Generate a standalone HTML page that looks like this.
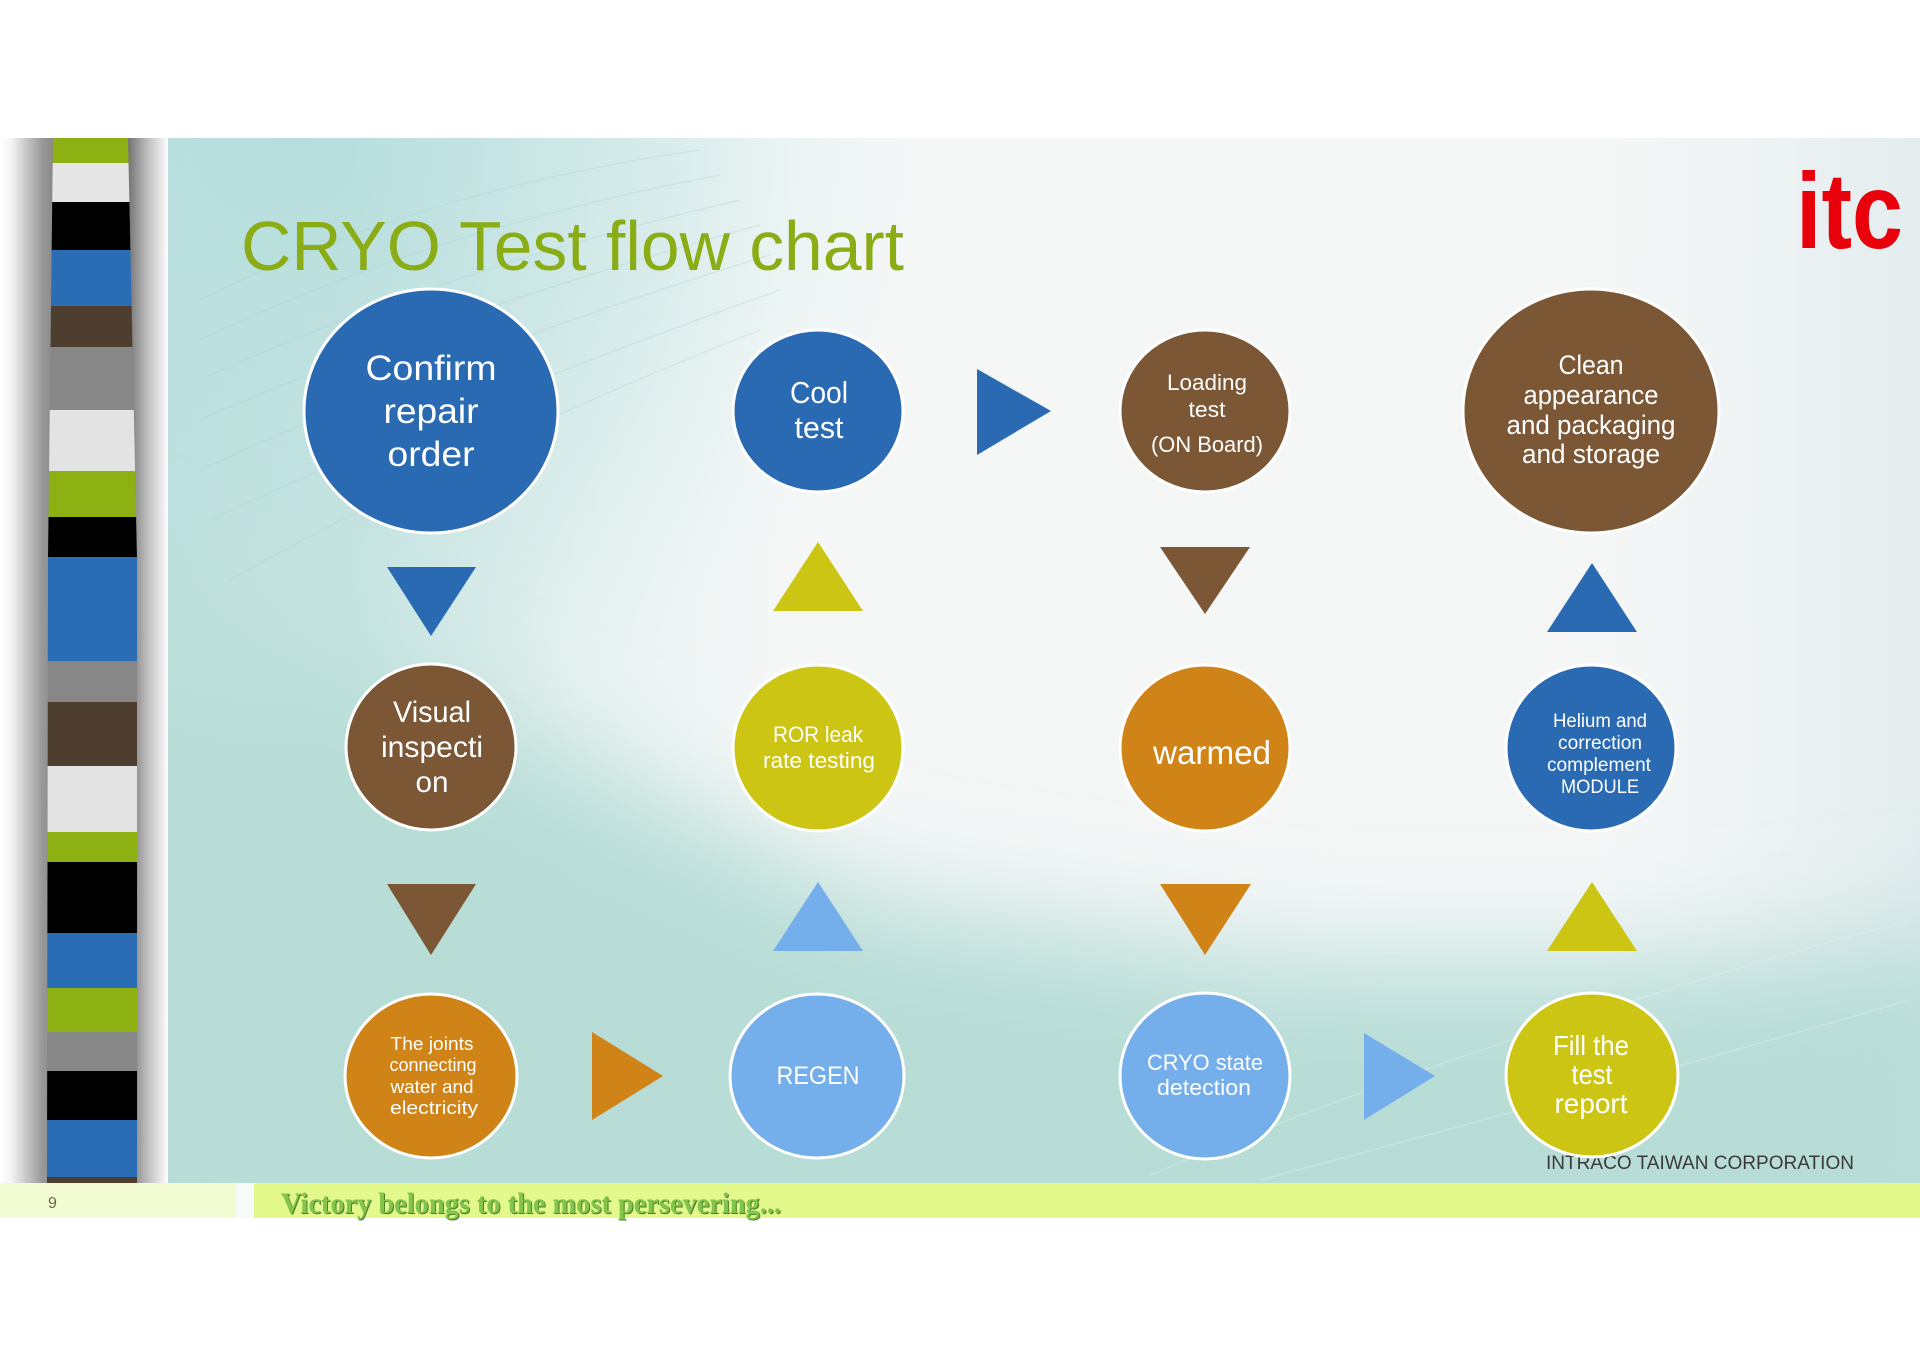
<!DOCTYPE html>
<html>
<head>
<meta charset="utf-8">
<style>
html,body{margin:0;padding:0;background:#fff;}
svg{display:block;}
</style>
</head>
<body>
<svg width="1920" height="1358" viewBox="0 0 1920 1358" xmlns="http://www.w3.org/2000/svg" font-family="'Liberation Sans', sans-serif">
<defs>
  <linearGradient id="lb" gradientUnits="userSpaceOnUse" x1="168" y1="0" x2="780" y2="0">
    <stop offset="0" stop-color="#b7dcd8" stop-opacity="1"/>
    <stop offset="0.3" stop-color="#b9ddd9" stop-opacity="0.85"/>
    <stop offset="0.65" stop-color="#c6e4e0" stop-opacity="0.35"/>
    <stop offset="1" stop-color="#d4ebe8" stop-opacity="0"/>
  </linearGradient>
  <radialGradient id="tl" gradientUnits="userSpaceOnUse" cx="300" cy="140" r="620">
    <stop offset="0" stop-color="#b4dedd" stop-opacity="0.9"/>
    <stop offset="0.6" stop-color="#c4e4e3" stop-opacity="0.5"/>
    <stop offset="1" stop-color="#d8eeed" stop-opacity="0"/>
  </radialGradient>
  <linearGradient id="rt" gradientUnits="userSpaceOnUse" x1="1600" y1="0" x2="1920" y2="0">
    <stop offset="0" stop-color="#e9eff1" stop-opacity="0"/>
    <stop offset="1" stop-color="#e3ecee" stop-opacity="1"/>
  </linearGradient>
  <linearGradient id="shL" x1="0" y1="0" x2="1" y2="0">
    <stop offset="0" stop-color="#ffffff"/>
    <stop offset="0.2" stop-color="#f4f4f4"/>
    <stop offset="0.75" stop-color="#999"/>
    <stop offset="1" stop-color="#858585"/>
  </linearGradient>
  <linearGradient id="shR" x1="0" y1="0" x2="1" y2="0">
    <stop offset="0" stop-color="#6a6a6a"/>
    <stop offset="0.45" stop-color="#b5b5b5"/>
    <stop offset="1" stop-color="#ffffff"/>
  </linearGradient>
  <filter id="blur" filterUnits="userSpaceOnUse" x="0" y="0" width="1920" height="1358">
    <feGaussianBlur stdDeviation="55"/>
  </filter>
  <clipPath id="panel">
    <rect x="168" y="138" width="1752" height="1045"/>
  </clipPath>
  <clipPath id="col">
    <polygon points="53,138 128,138 137,560 137,1183 47,1183 48,560"/>
  </clipPath>
</defs>

<!-- Panel background -->
<rect x="168" y="138" width="1752" height="1045" fill="#f5f7f7"/>
<rect x="1600" y="138" width="320" height="1045" fill="url(#rt)"/>
<rect x="168" y="138" width="1752" height="1045" fill="url(#lb)"/>
<g clip-path="url(#panel)">
  <polygon points="100,560 480,720 880,900 1300,960 1700,960 2000,930 2000,1300 100,1300" fill="#b8ddd7" filter="url(#blur)"/>
</g>
<rect x="168" y="138" width="900" height="700" fill="url(#tl)"/>
<g fill="none" stroke="#a6d2d1" stroke-width="1.2" opacity="0.35">
  <path d="M200,300 Q420,190 700,150"/>
  <path d="M200,340 Q430,230 720,175"/>
  <path d="M200,380 Q440,270 740,200"/>
  <path d="M200,420 Q450,310 760,225"/>
  <path d="M200,470 Q460,350 770,255"/>
  <path d="M210,520 Q470,400 780,290"/>
  <path d="M230,580 Q480,440 760,330"/>
</g>
<g fill="none" stroke="#e6f3f1" stroke-width="1.2" opacity="0.4">
  <path d="M1150,1175 Q1500,1030 1910,920"/>
  <path d="M1260,1180 Q1600,1090 1910,1000"/>
</g>

<!-- Left column shadows -->
<rect x="0" y="138" width="56" height="1045" fill="url(#shL)"/>
<rect x="126" y="138" width="42" height="1045" fill="url(#shR)"/>

<!-- Stripe column -->
<g clip-path="url(#col)">
  <rect x="40" y="138" width="110" height="26" fill="#8db012"/>
  <rect x="40" y="163" width="110" height="40" fill="#e6e6e6"/>
  <rect x="40" y="202" width="110" height="49" fill="#000"/>
  <rect x="40" y="250" width="110" height="57" fill="#2a6db5"/>
  <rect x="40" y="306" width="110" height="42" fill="#4d3e30"/>
  <rect x="40" y="347" width="110" height="64" fill="#878787"/>
  <rect x="40" y="410" width="110" height="62" fill="#e3e3e3"/>
  <rect x="40" y="471" width="110" height="47" fill="#8db012"/>
  <rect x="40" y="517" width="110" height="41" fill="#000"/>
  <rect x="40" y="557" width="110" height="105" fill="#2a6db5"/>
  <rect x="40" y="661" width="110" height="42" fill="#878787"/>
  <rect x="40" y="702" width="110" height="65" fill="#4d3e30"/>
  <rect x="40" y="766" width="110" height="67" fill="#e3e3e3"/>
  <rect x="40" y="832" width="110" height="31" fill="#8db012"/>
  <rect x="40" y="862" width="110" height="72" fill="#000"/>
  <rect x="40" y="933" width="110" height="56" fill="#2a6db5"/>
  <rect x="40" y="988" width="110" height="45" fill="#8db012"/>
  <rect x="40" y="1032" width="110" height="40" fill="#878787"/>
  <rect x="40" y="1071" width="110" height="50" fill="#000"/>
  <rect x="40" y="1120" width="110" height="58" fill="#2a6db5"/>
  <rect x="40" y="1177" width="110" height="6" fill="#4d3e30"/>
</g>

<!-- Title -->
<text x="241" y="270" font-size="70" fill="#8aac14" textLength="663" lengthAdjust="spacingAndGlyphs">CRYO Test flow chart</text>

<!-- itc logo -->
<text x="1796" y="248" font-size="108" font-weight="bold" fill="#e8000b" textLength="107" lengthAdjust="spacingAndGlyphs">itc</text>

<!-- Company text (behind circle) -->
<text x="1546" y="1169" font-size="19" fill="#3a3a3a" textLength="308" lengthAdjust="spacingAndGlyphs">INTRACO TAIWAN  CORPORATION</text>

<!-- Triangles -->
<g>
  <polygon points="387,567 476,567 431,636" fill="#2a6ab3"/>
  <polygon points="773,611 863,611 818,542" fill="#cdc513"/>
  <polygon points="1160,547 1250,547 1205,614" fill="#7b5735"/>
  <polygon points="1547,632 1637,632 1592,563" fill="#2a6ab3"/>
  <polygon points="387,884 476,884 431,955" fill="#7b5735"/>
  <polygon points="773,951 863,951 818,882" fill="#74aeeb"/>
  <polygon points="1160,884 1251,884 1205,955" fill="#d08316"/>
  <polygon points="1547,951 1637,951 1592,882" fill="#cdc513"/>
  <polygon points="977,369 977,455 1051,411" fill="#2a6ab3"/>
  <polygon points="592,1032 592,1120 663,1076" fill="#d08316"/>
  <polygon points="1364,1033 1364,1120 1435,1076" fill="#74aeeb"/>
</g>

<!-- Circles -->
<g stroke="#ffffff" stroke-width="3">
  <ellipse cx="431" cy="411" rx="127" ry="122" fill="#2a6ab3"/>
  <ellipse cx="818" cy="411" rx="85" ry="81" fill="#2a6ab3"/>
  <ellipse cx="1205" cy="411" rx="85" ry="81" fill="#7b5735"/>
  <ellipse cx="1591" cy="411" rx="128" ry="122" fill="#7b5735"/>

  <ellipse cx="431" cy="747" rx="85" ry="83" fill="#7b5735"/>
  <ellipse cx="818" cy="748" rx="85" ry="83" fill="#cdc513"/>
  <ellipse cx="1205" cy="748" rx="85" ry="83" fill="#d08316"/>
  <ellipse cx="1591" cy="748" rx="85" ry="83" fill="#2a6ab3"/>

  <ellipse cx="431" cy="1076" rx="86" ry="82" fill="#d08316"/>
  <ellipse cx="817" cy="1076" rx="87" ry="82" fill="#74aeeb"/>
  <ellipse cx="1205" cy="1076" rx="85" ry="83" fill="#74aeeb"/>
  <ellipse cx="1592" cy="1075" rx="86" ry="82" fill="#cdc513"/>
</g>

<!-- Circle labels -->
<g fill="#ffffff" text-anchor="middle">
  <text x="431" y="380" font-size="35" textLength="131" lengthAdjust="spacingAndGlyphs">Confirm</text>
  <text x="431" y="423" font-size="35" textLength="95" lengthAdjust="spacingAndGlyphs">repair</text>
  <text x="431" y="466" font-size="35" textLength="87" lengthAdjust="spacingAndGlyphs">order</text>

  <text x="819" y="403" font-size="31" textLength="58" lengthAdjust="spacingAndGlyphs">Cool</text>
  <text x="819" y="438" font-size="31" textLength="49" lengthAdjust="spacingAndGlyphs">test</text>

  <text x="1207" y="390" font-size="22" textLength="80" lengthAdjust="spacingAndGlyphs">Loading</text>
  <text x="1207" y="417" font-size="22" textLength="37" lengthAdjust="spacingAndGlyphs">test</text>
  <text x="1207" y="452" font-size="22" textLength="112" lengthAdjust="spacingAndGlyphs">(ON Board)</text>

  <text x="1591" y="374" font-size="27" textLength="65" lengthAdjust="spacingAndGlyphs">Clean</text>
  <text x="1591" y="404" font-size="27" textLength="135" lengthAdjust="spacingAndGlyphs">appearance</text>
  <text x="1591" y="434" font-size="27" textLength="169" lengthAdjust="spacingAndGlyphs">and packaging</text>
  <text x="1591" y="463" font-size="27" textLength="138" lengthAdjust="spacingAndGlyphs">and storage</text>

  <text x="432" y="722" font-size="30" textLength="78" lengthAdjust="spacingAndGlyphs">Visual</text>
  <text x="432" y="757" font-size="30" textLength="102" lengthAdjust="spacingAndGlyphs">inspecti</text>
  <text x="432" y="792" font-size="30" textLength="33" lengthAdjust="spacingAndGlyphs">on</text>

  <text x="818" y="742" font-size="22" textLength="90" lengthAdjust="spacingAndGlyphs">ROR leak</text>
  <text x="819" y="768" font-size="22" textLength="112" lengthAdjust="spacingAndGlyphs">rate testing</text>

  <text x="1212" y="764" font-size="33" textLength="118" lengthAdjust="spacingAndGlyphs">warmed</text>

  <text x="1600" y="727" font-size="19" textLength="94" lengthAdjust="spacingAndGlyphs">Helium and</text>
  <text x="1600" y="749" font-size="19" textLength="84" lengthAdjust="spacingAndGlyphs">correction</text>
  <text x="1599" y="771" font-size="19" textLength="104" lengthAdjust="spacingAndGlyphs">complement</text>
  <text x="1600" y="793" font-size="19" textLength="78" lengthAdjust="spacingAndGlyphs">MODULE</text>

  <text x="432" y="1050" font-size="18" textLength="83" lengthAdjust="spacingAndGlyphs">The joints</text>
  <text x="433" y="1071" font-size="18" textLength="87" lengthAdjust="spacingAndGlyphs">connecting</text>
  <text x="432" y="1093" font-size="18" textLength="83" lengthAdjust="spacingAndGlyphs">water and</text>
  <text x="434" y="1114" font-size="18" textLength="88" lengthAdjust="spacingAndGlyphs">electricity</text>

  <text x="818" y="1084" font-size="25" textLength="83" lengthAdjust="spacingAndGlyphs">REGEN</text>

  <text x="1205" y="1070" font-size="22" textLength="116" lengthAdjust="spacingAndGlyphs">CRYO state</text>
  <text x="1204" y="1095" font-size="22" textLength="94" lengthAdjust="spacingAndGlyphs">detection</text>

  <text x="1591" y="1055" font-size="28" textLength="76" lengthAdjust="spacingAndGlyphs">Fill the</text>
  <text x="1592" y="1084" font-size="28" textLength="41" lengthAdjust="spacingAndGlyphs">test</text>
  <text x="1591" y="1113" font-size="28" textLength="73" lengthAdjust="spacingAndGlyphs">report</text>
</g>

<!-- Footer -->
<rect x="0" y="1183" width="235" height="35" fill="#f3fbd3"/>
<rect x="235" y="1183" width="19" height="35" fill="#f6fbf7"/>
<rect x="254" y="1183" width="1666" height="35" fill="#e4f98b"/>
<text x="48" y="1208" font-size="16" fill="#6b6b3a" font-family="'Liberation Sans', sans-serif">9</text>
<text x="282" y="1214" font-size="30" font-weight="bold" fill="#4e7d2a" font-family="'Liberation Serif', serif" textLength="500" lengthAdjust="spacingAndGlyphs">Victory belongs to the most persevering...</text>
<text x="281" y="1213" font-size="30" font-weight="bold" fill="#82c44c" font-family="'Liberation Serif', serif" textLength="500" lengthAdjust="spacingAndGlyphs">Victory belongs to the most persevering...</text>
</svg>
</body>
</html>
